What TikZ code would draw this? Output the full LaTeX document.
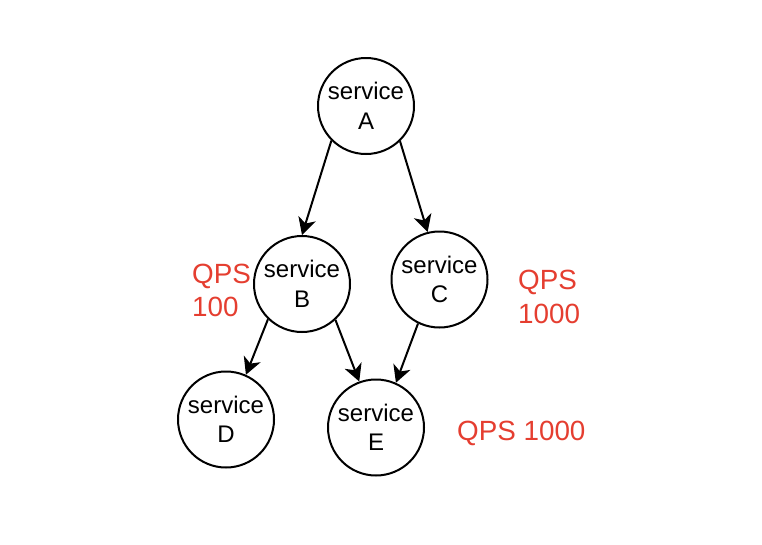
\documentclass[tikz,border=0pt]{standalone}
\usepackage{fontspec}
\setmainfont{Liberation Sans}
\usetikzlibrary{arrows.meta}
\definecolor{qpsred}{RGB}{229,62,48}
\tikzset{
  svc/.style={circle, draw=black, line width=2pt, minimum size=96pt, inner sep=1pt,
    align=center, font=\fontsize{24}{29.5}\selectfont},
  flow/.style={line width=2pt},
  qps/.style={text=qpsred, inner sep=0pt, align=left, anchor=base west,
    font=\fontsize{27.8}{33.7}\selectfont}
}
\begin{document}
\begin{tikzpicture}[x=1pt,y=-1pt,>={Stealth[length=17pt,width=18pt,inset=5pt]}]
  \useasboundingbox[fill=white] (0,0) rectangle (762,544);
  \node[svc] (A) at (366,106) {service\\A};
  \node[svc] (B) at (302,284) {service\\B};
  \node[svc] (C) at (439.5,279.5) {service\\C};
  \node[svc] (D) at (226,419.5) {service\\D};
  \node[svc] (E) at (376,427.5) {service\\E};
  \draw[flow,->] (A.225) -- (B.90);
  \draw[flow,->] (A.314) -- (C.104);
  \draw[flow,->] (B.226) -- (D.66);
  \draw[flow,->] (B.313) -- (E.110);
  \draw[flow,->] (C.244) -- (E.66);
  \node[qps] (qB) at (192,316.7) {QPS\\100};
  \node[qps] (qC) at (518,323) {QPS\\1000};
  \node[qps] (qE) at (457,440) {QPS 1000};
\end{tikzpicture}
\end{document}
